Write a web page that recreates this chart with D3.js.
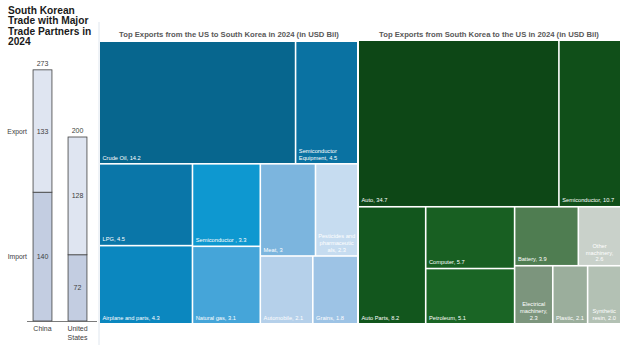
<!DOCTYPE html>
<html><head><meta charset="utf-8">
<script src="https://cdn.jsdelivr.net/npm/d3@7"></script>
<style>html,body{margin:0;padding:0;background:#fff;} svg{display:block;font-family:"Liberation Sans",Arial,sans-serif;}</style>
</head><body><svg id="c" width="624" height="345"></svg>
<script>
// ---- data ----
const partners = ["China", "United States"];
const importValues = [140, 72];
const exportValues = [133, 128];
const totalValues = [273, 200];
const seriesNames = ["Import", "Export"];

const usItems = ["Crude Oil", "Semiconductor Equipment", "LPG", "Airplane and parts", "Semiconductor", "Natural gas", "Meat", "Pesticides and pharmaceuticals", "Automobile", "Grains"];
const usValues = [14.2, 4.5, 4.5, 4.3, 3.3, 3.1, 3, 2.3, 2.1, 1.8];
const usLabels = ["Crude Oil, 14.2", "Semiconductor\nEquipment, 4.5", "LPG, 4.5", "Airplane and parts, 4.3", "Semiconductor , 3.3", "Natural gas, 3.1", "Meat, 3", "Pesticides and\npharmaceutic\nals, 2.3", "Automobile, 2.1", "Grains, 1.8"];

const krItems = ["Auto", "Semiconductor", "Auto Parts", "Computer", "Petroleum", "Battery", "Other machinery", "Electrical machinery", "Plastic", "Synthetic resin"];
const krValues = [34.7, 10.7, 8.2, 5.7, 5.1, 3.9, 2.6, 2.3, 2.1, 2.0];
const krLabels = ["Auto, 34.7", "Semiconductor, 10.7", "Auto Parts, 8.2", "Computer, 5.7", "Petroleum, 5.1", "Battery, 3.9", "Other\nmachinery,\n2.6", "Electrical\nmachinery,\n2.3", "Plastic, 2.1", "Synthetic\nresin, 2.0"];

// ---- styles ----
const usColors = ["#07668e", "#0a72a2", "#0a76a8", "#0b87bf", "#0e98d0", "#45a5d9", "#7cb5de", "#c6dcf0", "#b5d0ea", "#9dc3e5"];
const krColors = ["#0d4716", "#104f19", "#12561d", "#185f22", "#1a6525", "#4f7d51", "#c9d1ca", "#7c957d", "#9bae9c", "#b3c1b4"];
const barColors = {Import: "#c3cde1", Export: "#dfe5f1"};

const svg = d3.select("#c");

// ---- left panel: stacked bars ----
const title = ["South Korean", "Trade with Major", "Trade Partners in", "2024"];
svg.append("g").selectAll("text").data(title).join("text")
  .attr("x", 8).attr("y", (d, i) => 13.5 + i * 10.5)
  .attr("font-size", 10.2).attr("font-weight", "bold").attr("fill", "#1a1a1a").text(d => d);

const x = d3.scaleBand().domain(partners).range([25, 95]).paddingInner(0.46).paddingOuter(0.23);
const y = d3.scaleLinear().domain([0, 300]).range([321, 45]);

const rows = partners.map((p, i) => ({partner: p, Import: importValues[i], Export: exportValues[i], total: totalValues[i]}));
const stacked = d3.stack().keys(seriesNames)(rows);

const gb = svg.append("g");
stacked.forEach(s => {
  gb.append("g").selectAll("rect").data(s).join("rect")
    .attr("x", d => x(d.data.partner)).attr("width", x.bandwidth())
    .attr("y", d => y(d[1])).attr("height", d => y(d[0]) - y(d[1]))
    .attr("fill", barColors[s.key]).attr("stroke", "#404040").attr("stroke-width", 0.8);
  gb.append("g").selectAll("text").data(s).join("text")
    .attr("x", d => x(d.data.partner) + x.bandwidth() / 2)
    .attr("y", d => (y(d[0]) + y(d[1])) / 2 + 2.5)
    .attr("text-anchor", "middle").attr("font-size", 7).attr("fill", "#404040")
    .text(d => d.data[s.key]);
  // series labels next to first bar
  const first = s[0];
  gb.append("text").attr("x", 27).attr("y", (y(first[0]) + y(first[1])) / 2 + 2.5)
    .attr("text-anchor", "end").attr("font-size", 6.8).attr("fill", "#404040").text(s.key);
});
gb.append("g").selectAll("text").data(rows).join("text")
  .attr("x", d => x(d.partner) + x.bandwidth() / 2).attr("y", d => y(d.total) - 4)
  .attr("text-anchor", "middle").attr("font-size", 7).attr("fill", "#404040").text(d => d.total);

// axis
gb.append("line").attr("x1", 27).attr("x2", 97).attr("y1", y(0) + 0.5).attr("y2", y(0) + 0.5)
  .attr("stroke", "#595959").attr("stroke-width", 0.8);
const xl = gb.append("g").selectAll("text").data(partners).join("text")
  .attr("x", d => x(d) + x.bandwidth() / 2).attr("y", 331)
  .attr("text-anchor", "middle").attr("font-size", 7).attr("fill", "#404040");
xl.each(function(d) {
  const parts = d === "United States" ? ["United", "States"] : [d];
  d3.select(this).selectAll("tspan").data(parts).join("tspan")
    .attr("x", x(d) + x.bandwidth() / 2).attr("dy", (p, i) => i ? 9 : 0).text(p => p);
});

// faint frame line
svg.append("line").attr("x1", 99).attr("x2", 99).attr("y1", 22).attr("y2", 345)
  .attr("stroke", "#dfe6ee").attr("stroke-width", 1);

// ---- treemaps ----
function drawTreemap(items, values, labels, colors, x0, y0, w, h, titleText, titleX) {
  const root = d3.hierarchy({children: items.map((n, i) => ({name: n, value: values[i], label: labels[i], color: colors[i]}))})
    .sum(d => d.value || 0);
  d3.treemap().tile(d3.treemapSquarify.ratio(1.157)).size([w, h]).paddingInner(1.6)(root);
  const g = svg.append("g").attr("transform", `translate(${x0},${y0})`);
  const cell = g.selectAll("g").data(root.leaves()).join("g");
  cell.append("rect").attr("x", d => d.x0).attr("y", d => d.y0)
    .attr("width", d => d.x1 - d.x0).attr("height", d => d.y1 - d.y0)
    .attr("fill", d => d.data.color);
  cell.each(function(d) {
    const lines = d.data.label.split("\n");
    const cw = d.x1 - d.x0;
    const center = lines.length > 1 && cw < 50;
    const tx = center ? (d.x0 + d.x1) / 2 : d.x0 + 2.5;
    const t = d3.select(this).append("text")
      .attr("font-size", 5.7).attr("fill", "#ffffff")
      .attr("text-anchor", center ? "middle" : "start");
    t.selectAll("tspan").data(lines).join("tspan")
      .attr("x", tx).attr("y", (l, i) => d.y1 - 3.5 - (lines.length - 1 - i) * 6.8).text(l => l);
  });
  svg.append("text").attr("x", titleX).attr("y", 36.5).attr("text-anchor", "middle")
    .attr("font-size", 7.7).attr("font-weight", "bold").attr("fill", "#595959").text(titleText);
}

drawTreemap(usItems, usValues, usLabels, usColors, 100, 42, 257, 281,
  "Top Exports from the US to South Korea in 2024 (in USD Bil)", 229);
drawTreemap(krItems, krValues, krLabels, krColors, 359, 41, 261, 282,
  "Top Exports from South Korea to the US in 2024 (in USD Bil)", 489);
</script></body></html>
